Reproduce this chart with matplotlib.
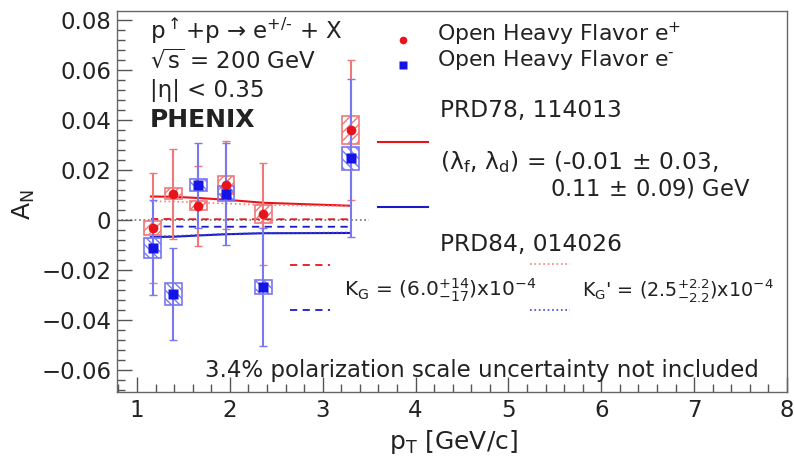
import matplotlib
matplotlib.use("Agg")
import matplotlib.pyplot as plt
from matplotlib.patches import Rectangle
from matplotlib.ticker import MultipleLocator

plt.rcParams['font.family'] = ['DejaVu Sans']
plt.rcParams['mathtext.fontset'] = 'dejavusans'
plt.rcParams['mathtext.default'] = 'regular'
plt.rcParams['hatch.linewidth'] = 1.0

# ---- data ----
pt = [1.17, 1.39, 1.66, 1.96, 2.36, 3.30]
an_pos = [-0.003, 0.0105, 0.0057, 0.0140, 0.0025, 0.0360]
stat_pos = [0.022, 0.018, 0.016, 0.0175, 0.0205, 0.028]
sys_pos = [0.0028, 0.0022, 0.0018, 0.0035, 0.0035, 0.0055]
an_neg = [-0.0110, -0.0295, 0.0140, 0.0105, -0.0267, 0.0247]
stat_neg = [0.019, 0.0185, 0.017, 0.0205, 0.0235, 0.0316]
sys_neg = [0.0040, 0.0043, 0.0025, 0.0030, 0.0027, 0.0047]

th_x = [1.15, 1.39, 1.66, 1.96, 2.36, 3.30]
prd78_pos = [0.0094, 0.0093, 0.0088, 0.0081, 0.0069, 0.0057]
prd78_neg = [-0.0068, -0.0067, -0.0062, -0.0057, -0.0053, -0.0052]
kg_pos = [0.0004, 0.0004, 0.0003, 0.0003, 0.0003, 0.0003]
kg_neg = [-0.0026, -0.0026, -0.0027, -0.0027, -0.0027, -0.0027]
kgp_pos = [0.0075, 0.0074, 0.0070, 0.0066, 0.0060, 0.0055]
kgp_neg = [-0.0066, -0.0064, -0.0060, -0.0056, -0.0052, -0.0050]

RED = '#e8141c'
BLUE = '#1414e6'
LRED = '#f07878'
LBLUE = '#7878f0'

W, H = 794, 459
fig = plt.figure(figsize=(W/100, H/100), dpi=100)
ax = fig.add_axes([117/W, 1-392/H, (787-117)/W, (392-11)/H])
ax.set_xlim(0.785, 8.0)
ax.set_ylim(-0.0688, 0.0836)

# zero line
ax.plot([0.785, 3.5], [0, 0], color='#707070', ls=':', lw=1.2, zorder=1)

# theory curves
ax.plot(th_x, prd78_pos, color=RED, lw=1.5, zorder=2)
ax.plot(th_x, prd78_neg, color='#1a1ac8', lw=1.5, zorder=2)
ax.plot(th_x, kg_pos, color=RED, lw=1.3, ls=(0, (4, 3)), zorder=2)
ax.plot(th_x, kg_neg, color='#1a1ac8', lw=1.3, ls=(0, (4, 3)), zorder=2)
ax.plot(th_x, kgp_pos, color='#f08080', lw=1.2, ls=':', zorder=2)
ax.plot(th_x, kgp_neg, color='#4040d0', lw=1.2, ls=':', zorder=2)

bw = 0.18
for x, y, s in zip(pt, an_pos, sys_pos):
    ax.add_patch(Rectangle((x-bw/2, y-s), bw, 2*s, facecolor='none',
                           edgecolor=LRED, hatch='////', lw=1.2, zorder=3))
for x, y, s in zip(pt, an_neg, sys_neg):
    ax.add_patch(Rectangle((x-bw/2, y-s), bw, 2*s, facecolor='none',
                           edgecolor=LBLUE, hatch='\\\\\\\\', lw=1.2, zorder=3))

ax.errorbar(pt, an_pos, yerr=stat_pos, fmt='none', ecolor=LRED, elinewidth=1.5,
            capsize=3, capthick=1, zorder=4)
ax.errorbar(pt, an_neg, yerr=stat_neg, fmt='none', ecolor=LBLUE, elinewidth=1.5,
            capsize=3, capthick=1, zorder=4)
ax.plot(pt, an_pos, 'o', color=RED, ms=7, zorder=5, mec='none')
ax.plot(pt, an_neg, 's', color=BLUE, ms=7.5, zorder=6, mec='none')

# axes style
ax.xaxis.set_major_locator(MultipleLocator(1))
ax.xaxis.set_minor_locator(MultipleLocator(0.2))
ax.yaxis.set_major_locator(MultipleLocator(0.02))
ax.yaxis.set_minor_locator(MultipleLocator(0.004))
ax.tick_params(which='both', direction='in', top=False, right=False, colors='#555555',
               labelcolor='#222222', labelsize=16.5)
ax.tick_params(which='major', length=11, width=1)
ax.tick_params(which='minor', length=6, width=1)
ax.set_yticks([-0.06, -0.04, -0.02, 0, 0.02, 0.04, 0.06, 0.08])
ax.set_yticklabels(['\u22120.06', '\u22120.04', '\u22120.02', '0', '0.02', '0.04', '0.06', '0.08'])
ax.set_xticks(range(1, 9))
ax.set_xticklabels([str(i) for i in range(1, 9)])
ax.tick_params(axis='x', pad=5)
ax.tick_params(axis='y', pad=4)
for sp in ax.spines.values():
    sp.set_color('#666666')
    sp.set_linewidth(1.0)

TXT = '#222222'

def T(x, y, s, **kw):
    kw.setdefault('color', TXT)
    fig.text(x/W, 1-y/H, s, **kw)

T(24, 205, r'A$_{N}$', rotation=90, fontsize=18, ha='center', va='center')
T(453, 442, r'p$_{T}$ [GeV/c]', fontsize=18, ha='center', va='center')

T(150, 31, 'p$^{\\uparrow}$+p \u2192 e$^{+/\u2010}$ + X', fontsize=16.5, va='center')
T(150, 61, r'$\sqrt{s}$ = 200 GeV', fontsize=16.5, va='center')
T(150, 90, '|\u03b7| < 0.35', fontsize=16.5, va='center')
T(150, 120, 'PHENIX', fontsize=18, va='center', fontweight='bold')

# legend
leg_ax = fig.add_axes([0, 0, 1, 1], facecolor='none')
leg_ax.set_xlim(0, W)
leg_ax.set_ylim(H, 0)
leg_ax.axis('off')
leg_ax.plot([403], [40], 'o', color=RED, ms=5.5, mec='none')
leg_ax.plot([403], [65], 's', color=BLUE, ms=5.5, mec='none')
LFS = 16.8
T(437, 34, 'Open Heavy Flavor e$^{+}$', fontsize=15.8, va='center')
T(437, 60, 'Open Heavy Flavor e$^{\u2010}$', fontsize=15.8, va='center')

leg_ax.plot([378, 428], [142, 142], color=RED, lw=1.5)
leg_ax.plot([378, 428], [207, 207], color='#1a1ac8', lw=1.5)
T(440, 111, 'PRD78, 114013', fontsize=LFS, va='center')
T(440, 162, r'($\lambda_{f}$, $\lambda_{d}$) = (-0.01$\,\pm\,$0.03,', fontsize=LFS, va='center')
T(550, 188, r'0.11$\,\pm\,$0.09) GeV', fontsize=16.3, va='center')

T(440, 244, 'PRD84, 014026', fontsize=LFS, va='center')
leg_ax.plot([290, 330], [265, 265], color=RED, lw=1.3, ls=(0, (4, 3)))
leg_ax.plot([290, 330], [310, 310], color='#1a1ac8', lw=1.3, ls=(0, (4, 3)))
leg_ax.plot([530, 570], [264, 264], color='#f08080', lw=1.2, ls=':')
leg_ax.plot([530, 570], [310, 310], color='#4040d0', lw=1.2, ls=':')
T(344, 290, r'K$_{G}$ = (6.0$^{+14}_{-17}$)x10$^{-4}$', fontsize=14.5, va='center')
T(582, 290, r"K$_{G}$' = (2.5$^{+2.2}_{-2.2}$)x10$^{-4}$", fontsize=13.8, va='center')

T(205, 370, '3.4% polarization scale uncertainty not included', fontsize=16.5, va='center')

fig.savefig('out.png', dpi=100)
